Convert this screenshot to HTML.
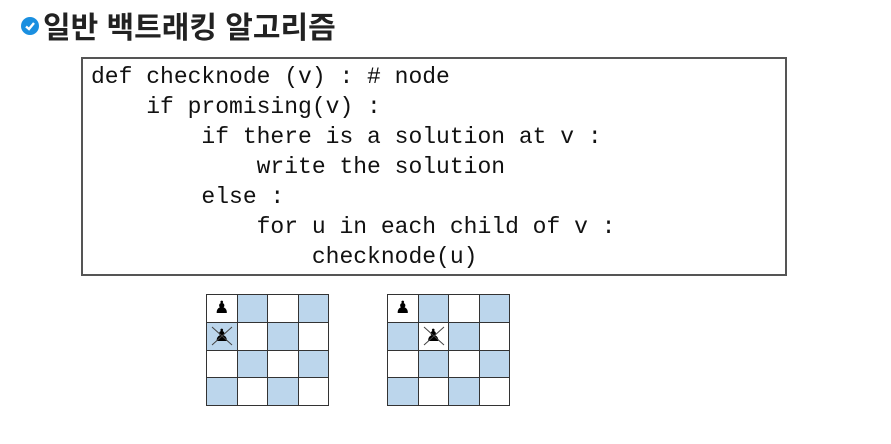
<!DOCTYPE html>
<html><head><meta charset="utf-8"><style>
body{margin:0;width:891px;height:444px;background:#fff;position:relative;overflow:hidden;font-family:"Liberation Sans","Noto Sans CJK KR",sans-serif}
.t{position:absolute;left:43px;top:3px;font-size:30px;font-weight:bold;color:#222}
.chk{position:absolute;left:21px;top:17px;width:18px;height:18px;border-radius:50%;background:#1a8fe0}
.box{position:absolute;left:81px;top:57px;width:702px;height:215px;border:2px solid #555}
pre{margin:0;position:absolute;left:8px;top:3px;font-family:"Liberation Mono",monospace;font-size:23px;line-height:30px;color:#111}
table{position:absolute;border-collapse:collapse}
td{width:29.5px;height:26.8px;border:1.5px solid #333;padding:0;text-align:center;font-size:17px;line-height:26px;position:relative}
.b{background:#bcd6ec}
.x{position:absolute;left:3px;top:2px}
</style></head><body>
<div class="chk"><svg width="18" height="18"><path d="M5 9.5 L8 12 L13 6" stroke="#fff" stroke-width="2.4" fill="none"/></svg></div>
<div class="t">일반 백트래킹 알고리즘</div>
<div class="box"><pre>def checknode (v) : # node
    if promising(v) :
        if there is a solution at v :
            write the solution
        else :
            for u in each child of v :
                checknode(u)</pre></div>
<table style="left:206px;top:294px">
<tr><td>♟</td><td class="b"></td><td></td><td class="b"></td></tr>
<tr><td class="b">♟<svg class="x" width="24" height="22"><path d="M2 2L22 20M22 2L2 20" stroke="#444" stroke-width="1"/></svg></td><td></td><td class="b"></td><td></td></tr>
<tr><td></td><td class="b"></td><td></td><td class="b"></td></tr>
<tr><td class="b"></td><td></td><td class="b"></td><td></td></tr>
</table>
<table style="left:387px;top:294px">
<tr><td>♟</td><td class="b"></td><td></td><td class="b"></td></tr>
<tr><td class="b"></td><td>♟<svg class="x" width="24" height="22"><path d="M2 2L22 20M22 2L2 20" stroke="#444" stroke-width="1"/></svg></td><td class="b"></td><td></td></tr>
<tr><td></td><td class="b"></td><td></td><td class="b"></td></tr>
<tr><td class="b"></td><td></td><td class="b"></td><td></td></tr>
</table>
</body></html>
